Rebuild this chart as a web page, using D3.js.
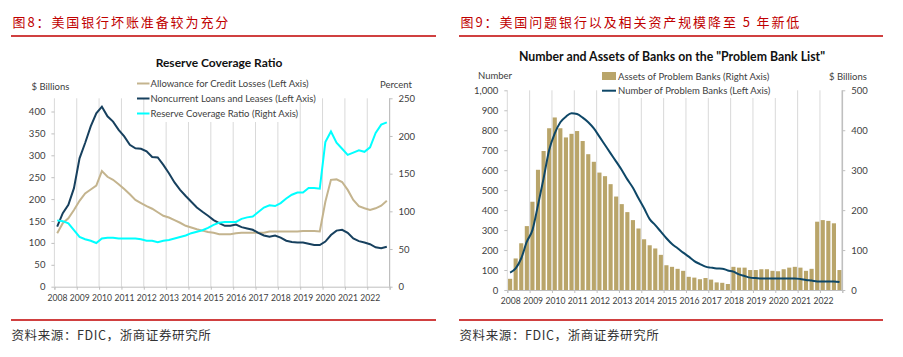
<!DOCTYPE html>
<html>
<head>
<meta charset="utf-8">
<script src="https://cdn.jsdelivr.net/npm/d3@7/dist/d3.min.js"></script>
<style>
  html, body { margin: 0; padding: 0; background: #ffffff; }
  svg { display: block; }
  .cn { font-family: "Noto Sans CJK SC", sans-serif; }
  .lat { font-family: Lato, "Noto Sans", sans-serif; }
</style>
</head>
<body>
<svg id="chart" width="903" height="357"></svg>
<script>
// ---------------- data ----------------
const years = d3.range(2008, 2023);            // 2008 ... 2022
const quarters = [];
years.forEach(y => [1, 2, 3, 4].forEach(q => quarters.push(y + "Q" + q)));

// Left chart: Reserve Coverage Ratio ($ billions, percent)
const allowance = [122,145,156,175,196,213,222,231,264,251,244,234,223,211,198,191,184,178,170,162,158,152,146,139,135,131,128,125,123,120,
                   120,120,122,123,123,123,123,123,126,126,126,126,126,126,127,127,127,126,194,244,245,239,221,198,184,179,175,179,185,196];
const noncurrent = [137,168,187,225,293,328,366,396,411,389,377,358,343,324,316,315,309,296,295,278,259,238,221,207,194,181,171,162,152,145,
                    139,139,142,136,133,130,123,117,114,117,112,105,102,101,101,98,95,95,103,118,128,130,123,110,104,101,97,90,88,91];
const coverage = [88,87,84,75,66,63,61,58,64,65,65,64,64,64,64,63,61,61,59,61,62,64,66,68,71,73,75,78,82,85,
                  86,86,86,90,92,93,99,105,108,107,111,117,122,125,125,131,131,130,192,206,191,183,175,178,181,179,185,204,215,218];
const leftTicksL = [0,50,100,150,200,250,300,350,400];
const leftTicksR = [0,50,100,150,200,250];

// Right chart: Problem Bank List
const problemAssets = [28,79,117,160,221,301,348,405,432,405,382,391,398,373,340,321,294,285,265,234,215,195,175,154,127,112,104,88,62,58,
                       53,48,33,31,27,30,26,19,18,15,58,56,56,50,50,52,52,48,47,52,56,58,56,48,53,171,175,173,167,50];
const problemCount = [87,108,159,242,300,425,559,701,784,840,868,885,881,863,840,809,768,726,684,643,601,554,512,459,409,355,325,292,259,230,
                      209,187,167,145,130,117,112,108,107,98,92,78,70,62,60,58,58,57,57,57,58,58,55,50,47,43,42,43,43,40];
const rightTicksL = [0,100,200,300,400,500,600,700,800,900,1000];
const rightTicksR = [0,100,200,300,400,500];

// texts
const header1 = "图8：美国银行坏账准备较为充分";
const header2 = "图9：美国问题银行以及相关资产规模降至 5 年新低";
const source = "资料来源：FDIC，浙商证券研究所";
const title1 = "Reserve Coverage Ratio";
const title2 = "Number and Assets of Banks on the \"Problem Bank List\"";
const legend1 = ["Allowance for Credit Losses (Left Axis)", "Noncurrent Loans and Leases (Left Axis)", "Reserve Coverage Ratio (Right Axis)"];
const legend2 = ["Assets of Problem Banks (Right Axis)", "Number of Problem Banks (Left Axis)"];

// ---------------- styles ----------------
const RED = "#c00000";
const GRID = "#d9d9d9";
const AXIS = "#bfbfbf";
const LABEL = "#404040";
const TAN = "#c4b48e";
const NAVY = "#17405e";
const CYAN = "#00ffff";
const BAR = "#b9a56a";
const NAVY2 = "#0e4767";

const svg = d3.select("#chart");

// ---------------- headers & footers ----------------
function frame(x0, x1, header) {
  svg.append("text").attr("class", "cn")
    .attr("x", x0 + 1.5).attr("y", 27)
    .attr("font-size", 13).attr("letter-spacing", "1.9px")
    .attr("fill", RED).text(header);
  svg.append("line").attr("x1", x0).attr("x2", x1).attr("y1", 36).attr("y2", 36)
    .attr("stroke", RED).attr("stroke-width", 1.3);
  svg.append("line").attr("x1", x0).attr("x2", x1).attr("y1", 320).attr("y2", 320)
    .attr("stroke", RED).attr("stroke-width", 1.3);
  svg.append("text").attr("class", "cn")
    .attr("x", x0 + 0.5).attr("y", 340)
    .attr("font-size", 12.5).attr("letter-spacing", "0.6px")
    .attr("fill", "#333").text(source);
}
frame(11, 436, header1);
frame(459, 883, header2);

// ---------------- left chart ----------------
(function () {
  const x0 = 54.4, x1 = 389.6, yb = 286.7, yt = 98.3;
  const xYear = d3.scaleLinear().domain([2008, 2023]).range([x0, x1]);
  const xq = d3.scaleBand().domain(quarters).range([x0, x1]);
  const cx = q => xq(q) + xq.bandwidth() / 2;
  const yL = d3.scaleLinear().domain([0, 400]).range([yb, 111.5]);
  const yR = d3.scaleLinear().domain([0, 250]).range([yb, yt]);
  const g = svg.append("g");

  // gridlines
  g.selectAll(".vg").data(years.slice(1)).join("line")
    .attr("x1", d => xYear(d)).attr("x2", d => xYear(d))
    .attr("y1", yt).attr("y2", yb).attr("stroke", GRID).attr("stroke-width", 1);

  // left axis
  const axL = g.append("g").attr("transform", `translate(${x0},0)`)
    .call(d3.axisLeft(yL).tickValues(leftTicksL).tickSize(3).tickPadding(6));
  axL.select(".domain").attr("stroke", GRID).attr("d", `M0,${yt}V${yb}`);
  axL.selectAll(".tick line").attr("stroke", AXIS);
  axL.selectAll(".tick text").attr("class", "lat").attr("font-size", 9.5).attr("fill", LABEL);

  // right axis
  const axR = g.append("g").attr("transform", `translate(${x1},0)`)
    .call(d3.axisRight(yR).tickValues(leftTicksR).tickSize(3).tickPadding(6));
  axR.select(".domain").attr("stroke", AXIS).attr("stroke-width", 1.2).attr("d", `M0,${yt}V${yb}`);
  axR.selectAll(".tick line").attr("stroke", AXIS);
  axR.selectAll(".tick text").attr("class", "lat").attr("font-size", 9.5).attr("fill", LABEL);

  // bottom axis
  const axB = g.append("g").attr("transform", `translate(0,${yb})`)
    .call(d3.axisBottom(xYear).tickValues(years.concat([2023])).tickSize(3).tickPadding(5).tickFormat(d => d === 2023 ? "" : d));
  axB.select(".domain").attr("stroke", AXIS);
  axB.selectAll(".tick line").attr("stroke", AXIS);
  axB.selectAll(".tick text").attr("class", "lat").attr("font-size", 8.6).attr("fill", LABEL).attr("dx", 2.5);

  // lines
  const lineL = d3.line().x((d, i) => cx(quarters[i])).y(d => yL(d)).curve(d3.curveLinear);
  const lineR = d3.line().x((d, i) => cx(quarters[i])).y(d => yR(d));
  g.append("path").datum(allowance).attr("d", lineL).attr("fill", "none").attr("stroke", TAN).attr("stroke-width", 2);
  g.append("path").datum(noncurrent).attr("d", lineL).attr("fill", "none").attr("stroke", NAVY).attr("stroke-width", 2);
  g.append("path").datum(coverage).attr("d", lineR).attr("fill", "none").attr("stroke", CYAN).attr("stroke-width", 2);

  // title & axis titles
  svg.append("text").attr("class", "lat").attr("x", 219).attr("y", 67).attr("text-anchor", "middle")
    .attr("font-size", 12).attr("font-weight", "bold").attr("fill", "#111").text(title1);
  svg.append("text").attr("class", "lat").attr("x", 31.5).attr("y", 90).attr("font-size", 9.5).attr("fill", LABEL).text("$ Billions");
  svg.append("text").attr("class", "lat").attr("x", 380).attr("y", 88).attr("font-size", 9.5).attr("fill", LABEL).text("Percent");

  // legend
  const lg = svg.append("g");
  lg.append("rect").attr("x", 149).attr("y", 76).attr("width", 147).attr("height", 46).attr("fill", "#fff");
  const cols = [TAN, NAVY, CYAN];
  legend1.forEach((t, i) => {
    const y = 83.5 + i * 15;
    lg.append("line").attr("x1", 137).attr("x2", 149.5).attr("y1", y).attr("y2", y).attr("stroke", cols[i]).attr("stroke-width", 2);
    lg.append("text").attr("class", "lat").attr("x", 150.5).attr("y", y + 3.3).attr("font-size", 9.5).attr("fill", LABEL).text(t);
  });
})();

// ---------------- right chart ----------------
(function () {
  const x0 = 507.3, x1 = 842.3, yb = 290, yt = 90.3;
  const xYear = d3.scaleLinear().domain([2008, 2023]).range([x0, x1]);
  const xq = d3.scaleBand().domain(quarters).range([x0, x1]).paddingInner(0.26).paddingOuter(0.13);
  const xqc = d3.scaleBand().domain(quarters).range([x0, x1]);
  const cx = q => xqc(q) + xqc.bandwidth() / 2;
  const yL = d3.scaleLinear().domain([0, 1000]).range([yb, yt]);
  const yR = d3.scaleLinear().domain([0, 500]).range([yb, yt]);
  const g = svg.append("g");

  g.selectAll(".vg").data(years.slice(1)).join("line")
    .attr("x1", d => xYear(d)).attr("x2", d => xYear(d))
    .attr("y1", yt).attr("y2", yb).attr("stroke", GRID).attr("stroke-width", 1);

  // legend background (covers gridlines)
  g.append("rect").attr("x", 600).attr("y", 68).attr("width", 180).attr("height", 30).attr("fill", "#fff");

  // bars
  g.selectAll(".bar").data(problemAssets).join("rect")
    .attr("x", (d, i) => xq(quarters[i])).attr("width", xq.bandwidth())
    .attr("y", d => yR(d)).attr("height", d => yb - yR(d)).attr("fill", BAR);

  // axes
  const axL = g.append("g").attr("transform", `translate(${x0},0)`)
    .call(d3.axisLeft(yL).tickValues(rightTicksL).tickSize(3).tickPadding(6).tickFormat(d3.format(",")));
  axL.select(".domain").attr("stroke", GRID).attr("d", `M0,${yt}V${yb}`);
  axL.selectAll(".tick line").attr("stroke", AXIS);
  axL.selectAll(".tick text").attr("class", "lat").attr("font-size", 9.5).attr("fill", LABEL);

  const axR = g.append("g").attr("transform", `translate(${x1},0)`)
    .call(d3.axisRight(yR).tickValues(rightTicksR).tickSize(3).tickPadding(6));
  axR.select(".domain").attr("stroke", AXIS).attr("stroke-width", 1.6).attr("d", `M0,${yt}V${yb}`);
  axR.selectAll(".tick line").attr("stroke", AXIS);
  axR.selectAll(".tick text").attr("class", "lat").attr("font-size", 9.5).attr("fill", LABEL);

  const axB = g.append("g").attr("transform", `translate(0,${yb})`)
    .call(d3.axisBottom(xYear).tickValues(years.concat([2023])).tickSize(3).tickPadding(5).tickFormat(d => d === 2023 ? "" : d));
  axB.select(".domain").attr("stroke", AXIS);
  axB.selectAll(".tick line").attr("stroke", AXIS);
  axB.selectAll(".tick text").attr("class", "lat").attr("font-size", 8.6).attr("fill", LABEL).attr("dx", 3);

  // line
  const line = d3.line().x((d, i) => cx(quarters[i])).y(d => yL(d)).curve(d3.curveMonotoneX);
  g.append("path").datum(problemCount).attr("d", line).attr("fill", "none").attr("stroke", NAVY2).attr("stroke-width", 2);

  // titles
  svg.append("text").attr("class", "lat").attr("x", 672).attr("y", 61).attr("text-anchor", "middle")
    .attr("font-size", 12.3).attr("font-weight", "bold").attr("fill", "#111").text(title2);
  svg.append("text").attr("class", "lat").attr("x", 478).attr("y", 79).attr("font-size", 9.5).attr("fill", LABEL).text("Number");
  svg.append("text").attr("class", "lat").attr("x", 829).attr("y", 80).attr("font-size", 9.5).attr("fill", LABEL).text("$ Billions");

  // legend
  svg.append("rect").attr("x", 602).attr("y", 72).attr("width", 14).attr("height", 8).attr("fill", BAR);
  svg.append("text").attr("class", "lat").attr("x", 618).attr("y", 79.5).attr("font-size", 9.5).attr("fill", LABEL).text(legend2[0]);
  svg.append("line").attr("x1", 602).attr("x2", 616).attr("y1", 90.7).attr("y2", 90.7).attr("stroke", NAVY2).attr("stroke-width", 2);
  svg.append("text").attr("class", "lat").attr("x", 618).attr("y", 94).attr("font-size", 9.5).attr("fill", LABEL).text(legend2[1]);
})();
</script>
</body>
</html>
